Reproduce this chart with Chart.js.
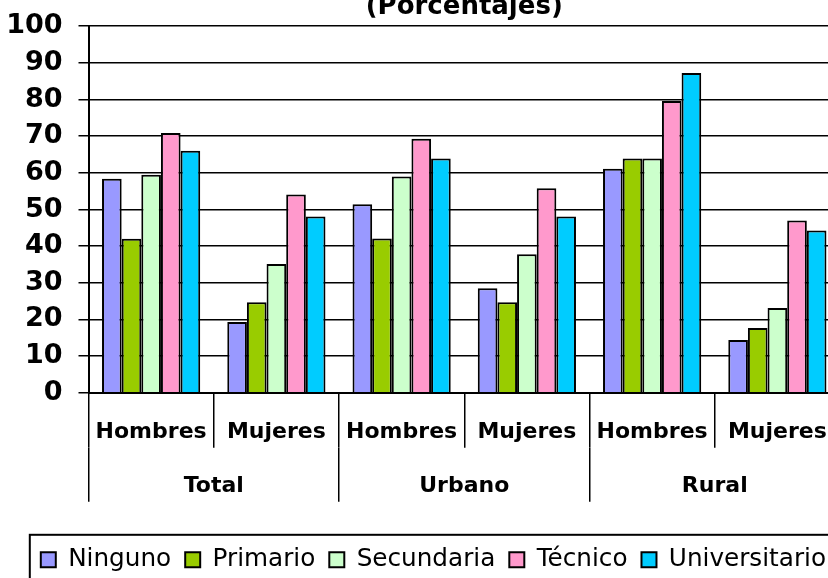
<!DOCTYPE html>
<html>
<head>
<meta charset="utf-8">
<script src="https://cdn.jsdelivr.net/npm/chart.js@4/dist/chart.umd.min.js"></script>
<style>
  html, body { margin: 0; padding: 0; overflow: hidden; background: #fff; width: 828px; height: 578px; }
  #c { position: absolute; left: 0; top: -6px; }
</style>
</head>
<body>
<canvas id="c" width="840" height="588"></canvas>
<script>
// ---- data ----
const categories = ['Hombres', 'Mujeres', 'Hombres', 'Mujeres', 'Hombres', 'Mujeres'];
const groups = ['Total', 'Urbano', 'Rural'];
const seriesNames = ['Ninguno', 'Primario', 'Secundaria', 'Técnico', 'Universitario'];
const ninguno       = [58.4, 19.3, 51.4, 28.5, 61.1, 14.4];
const primario      = [42.0, 24.7, 42.1, 24.7, 63.9, 17.7];
const secundaria    = [59.5, 35.1, 59.0, 37.8, 63.9, 23.1];
const tecnico       = [70.9, 54.1, 69.3, 55.8, 79.6, 47.0];
const universitario = [66.0, 48.1, 63.9, 48.1, 87.2, 44.3];
const yTicks = [0, 10, 20, 30, 40, 50, 60, 70, 80, 90, 100];
const titleText = '(Porcentajes)';

// ---- styles ----
const colors = ['#9999FF', '#99CC00', '#CCFFCC', '#FF99CC', '#00CCFF'];
const FONT = "'DejaVu Sans', sans-serif";
const values = [ninguno, primario, secundaria, tecnico, universitario];

const legendBorder = {
  id: 'legendBorder',
  afterDraw(chart) {
    const lg = chart.legend;
    if (!lg || !lg.legendHitBoxes || !lg.legendHitBoxes.length) return;
    const hb = lg.legendHitBoxes[0];
    const ctx = chart.ctx;
    ctx.save();
    ctx.strokeStyle = '#000';
    ctx.lineWidth = 2;
    ctx.strokeRect(hb.left - 11, lg.top + 1.5, 2000, 500);
    ctx.restore();
  }
};

new Chart(document.getElementById('c'), {
  type: 'bar',
  data: {
    labels: categories,
    datasets: seriesNames.map((n, i) => ({
      label: n,
      data: values[i],
      backgroundColor: colors[i],
      borderColor: '#000',
      borderWidth: 2,
      borderSkipped: 'start',
      categoryPercentage: 0.784,
      barPercentage: 1.0
    }))
  },
  options: {
    responsive: false,
    animation: false,
    devicePixelRatio: 1,
    layout: { padding: 0 },
    plugins: {
      title: {
        display: true,
        text: titleText,
        fullSize: false,
        color: '#000',
        font: { family: FONT, size: 26, weight: 'bold', lineHeight: 1.0 },
        padding: { top: 0, bottom: 5.6 }
      },
      legend: {
        display: true,
        position: 'bottom',
        align: 'end',
        labels: {
          color: '#000',
          font: { family: FONT, size: 24.7 },
          boxWidth: 15,
          boxHeight: 15,
          padding: 14
        }
      },
      tooltip: { enabled: false }
    },
    scales: {
      x: {
        type: 'category',
        position: 'bottom',
        offset: true,
        afterFit(scale) { scale.height = 55; },
        grid: { display: true, offset: true, drawOnChartArea: false, drawTicks: true, tickLength: 55, color: '#000', lineWidth: 1.5 },
        border: { display: true, color: '#000', width: 2 },
        ticks: { color: '#000', font: { family: FONT, size: 22, weight: 'bold' }, padding: -29, autoSkip: false, maxRotation: 0, minRotation: 0 }
      },
      x2: {
        type: 'category',
        position: 'bottom',
        labels: groups,
        offset: true,
        afterFit(scale) { scale.height = 85.5; },
        grid: { display: true, offset: true, drawOnChartArea: false, drawTicks: true, tickLength: 54, color: '#000', lineWidth: 1.5 },
        border: { display: false },
        ticks: { color: '#000', font: { family: FONT, size: 22, weight: 'bold' }, padding: -29, autoSkip: false, maxRotation: 0, minRotation: 0 }
      },
      y: {
        min: 0,
        max: 100,
        afterFit(scale) { scale.width = 88.5; },
        afterBuildTicks(scale) { scale.ticks = yTicks.map(v => ({ value: v })); },
        grid: { color: '#000', lineWidth: 1.5, drawTicks: true, tickLength: 10 },
        border: { display: true, color: '#000', width: 2 },
        ticks: { color: '#000', font: { family: FONT, size: 27, weight: 'bold' }, padding: 16 }
      }
    }
  },
  plugins: [legendBorder]
});
</script>
</body>
</html>
